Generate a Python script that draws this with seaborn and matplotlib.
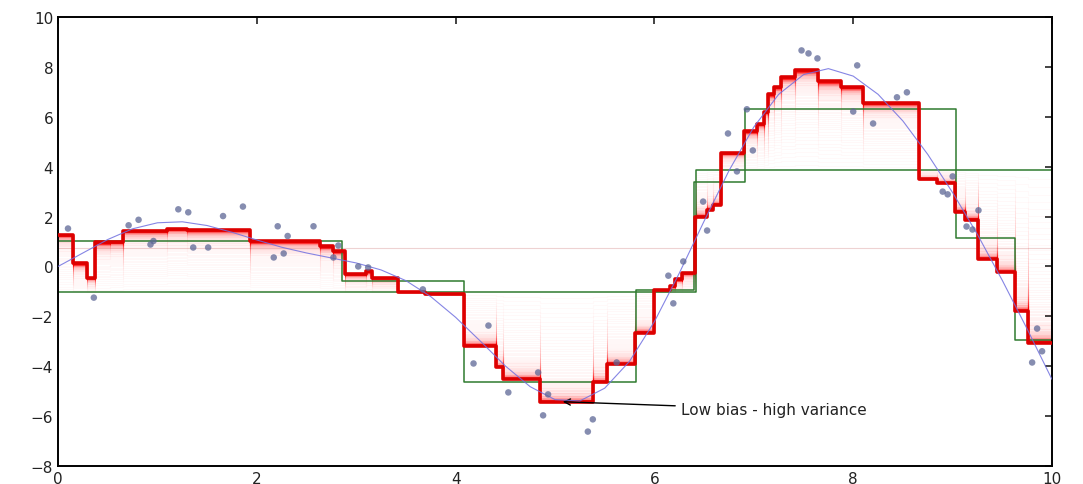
"""Staged gradient boosting predictions vs. shallow trees on a noisy 1-D target."""

import numpy as np
import pandas as pd
import matplotlib.pyplot as plt
import seaborn as sns

# ground truth curve (read every 0.25 along x)
truth_x = [0.0, 0.25, 0.5, 0.75, 1.0, 1.25, 1.5, 1.75, 2.0, 2.25, 2.5, 2.75,
           3.0, 3.25, 3.5, 3.75, 4.0, 4.25, 4.5, 4.75, 5.0, 5.25, 5.5, 5.75,
           6.0, 6.25, 6.5, 6.75, 7.0, 7.25, 7.5, 7.75, 8.0, 8.25, 8.5, 8.75,
           9.0, 9.25, 9.5, 9.75, 10.0]
truth_y = [0.0, 0.54, 1.08, 1.51, 1.75, 1.79, 1.64, 1.37, 1.06, 0.77, 0.54,
           0.34, 0.14, -0.14, -0.57, -1.21, -2.04, -3.0, -3.99, -4.82, -5.34,
           -5.39, -4.88, -3.8, -2.21, -0.27, 1.82, 3.84, 5.59, 6.9, 7.69,
           7.93, 7.63, 6.9, 5.83, 4.49, 2.96, 1.28, -0.56, -2.51, -4.53]

# training samples
pts_x = [0.10, 0.36, 0.71, 0.81, 0.93, 0.96, 1.21, 1.31, 1.36, 1.51, 1.66,
         1.86, 2.17, 2.21, 2.27, 2.31, 2.57, 2.77, 2.82, 3.02, 3.12, 3.67,
         4.18, 4.33, 4.53, 4.83, 4.88, 4.93, 5.33, 5.38, 5.62, 6.14, 6.19,
         6.29, 6.49, 6.53, 6.74, 6.83, 6.93, 6.99, 7.48, 7.55, 7.64, 8.00,
         8.04, 8.20, 8.44, 8.54, 8.90, 8.95, 9.00, 9.14, 9.20, 9.26, 9.80,
         9.85, 9.90]
pts_y = [1.52, -1.25, 1.65, 1.87, 0.88, 1.02, 2.29, 2.17, 0.76, 0.76, 2.02,
         2.40, 0.36, 1.61, 0.52, 1.22, 1.61, 0.36, 0.84, 0.00, -0.04, -0.92,
         -3.89, -2.37, -5.05, -4.25, -5.97, -5.13, -6.62, -6.13, -3.85, -0.37,
         -1.48, 0.20, 2.60, 1.44, 5.33, 3.81, 6.30, 4.65, 8.66, 8.54, 8.34,
         6.21, 8.06, 5.73, 6.78, 6.98, 3.00, 2.89, 3.61, 1.60, 1.48, 2.25,
         -3.85, -2.49, -3.40]

# final boosted prediction: step edges and leaf values
red_edges = [0, 0.15, 0.29, 0.37, 0.52, 0.65, 1.1, 1.3, 1.93, 2.64, 2.77,
             2.89, 3.1, 3.16, 3.42, 3.69, 4.08, 4.41, 4.48, 4.85, 5.38, 5.52,
             5.8, 6.0, 6.16, 6.21, 6.28, 6.41, 6.53, 6.59, 6.67, 6.9, 7.03,
             7.1, 7.14, 7.2, 7.27, 7.41, 7.65, 7.88, 8.1, 8.66, 8.84, 9.02,
             9.12, 9.26, 9.45, 9.63, 9.76, 10]
red_vals = [1.28, 0.12, -0.45, 0.96, 1.0, 1.44, 1.52, 1.47, 1.01, 0.81, 0.61,
            -0.3, -0.2, -0.45, -1.04, -1.12, -3.17, -4.05, -4.53, -5.45,
            -4.65, -3.93, -2.65, -0.96, -0.8, -0.52, -0.25, 2.0, 2.28, 2.48,
            4.55, 5.42, 5.72, 6.2, 6.9, 7.2, 7.58, 7.86, 7.42, 7.2, 6.56,
            3.49, 3.35, 2.2, 1.88, 0.28, -0.24, -1.8, -3.05]

# depth-1 and depth-3 regression trees
stump_edges = [0, 6.42, 10]
stump_vals = [-1.04, 3.85]
tree_edges = [0, 2.86, 4.08, 5.81, 6.4, 6.91, 9.03, 9.63, 10]
tree_vals = [1.04, -0.6, -4.65, -0.96, 3.37, 6.33, 1.16, -2.93]

init_value = 0.72
learning_rate = 0.05
n_stages = 100


def step_at(edges, vals, xs):
    """Evaluate a step function (left-closed bins) at xs."""
    idx = np.searchsorted(edges, xs, side='right') - 1
    idx = np.clip(idx, 0, len(vals) - 1)
    return np.asarray(vals)[idx]


def draw_steps(ax, edges, vals, **kws):
    df = pd.DataFrame({'x': edges, 'y': list(vals) + [vals[-1]]})
    sns.lineplot(data=df, x='x', y='y', drawstyle='steps-post',
                 estimator=None, sort=False, ax=ax, **kws)


sns.set_style('white')
plt.rcParams.update({
    'xtick.direction': 'in', 'ytick.direction': 'in',
    'xtick.top': True, 'ytick.right': True,
    'xtick.major.size': 5, 'ytick.major.size': 5,
})

fig = plt.figure(figsize=(10.83, 4.85), dpi=100)
ax = fig.add_axes([0.0536, 0.0371, 0.9178, 0.9258])

# staged predictions fading in towards the final model
grid = np.unique(np.concatenate([red_edges, stump_edges]))
final_on_grid = step_at(red_edges, red_vals, grid)
stump_on_grid = step_at(stump_edges, stump_vals, grid)
ax.axhline(init_value, color='#d08080', alpha=0.35, lw=0.8, zorder=1)
for k in range(1, n_stages + 1):
    frac = 1 - (1 - learning_rate) ** k
    stage = stump_on_grid + (final_on_grid - stump_on_grid) * frac
    draw_steps(ax, list(grid), list(stage[:-1]), color='red',
               alpha=0.025 + 0.14 * (k / n_stages) ** 2, lw=0.8, zorder=1)

draw_steps(ax, stump_edges, stump_vals, color='#2f7a2f', lw=1.1, zorder=2)
draw_steps(ax, tree_edges, tree_vals, color='#2f7a2f', lw=1.1, zorder=2)
draw_steps(ax, red_edges, red_vals, color='#dd0000', lw=2.6, zorder=3)

sns.lineplot(x=truth_x, y=truth_y, color='#7070e0', lw=0.8, alpha=0.85,
             ax=ax, zorder=4)
sns.scatterplot(x=pts_x, y=pts_y, color='#5d6796', s=22, alpha=0.75,
                edgecolor='none', ax=ax, zorder=5)

ax.annotate('Low bias - high variance', xy=(5.05, -5.42), xytext=(6.27, -5.73),
            fontsize=11, color='#222222', va='center', ha='left',
            arrowprops=dict(arrowstyle='->', color='black', lw=1))

ax.set_xlim(0, 10)
ax.set_ylim(-8, 10)
ax.set_xticks(range(0, 11, 2))
ax.set_yticks(range(-8, 11, 2))
ax.tick_params(labelsize=11, colors='#222222', width=1.2)
ax.set_xlabel('')
ax.set_ylabel('')
for spine in ax.spines.values():
    spine.set_color('black')
    spine.set_linewidth(1.4)

fig.savefig('out.png', dpi=100)
